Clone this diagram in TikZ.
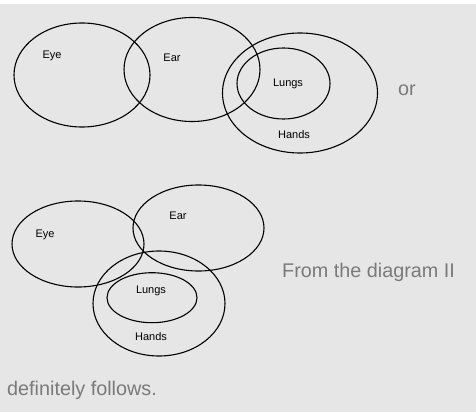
\documentclass[tikz,border=0pt]{standalone}
\usepackage{fontspec}
\setmainfont{Liberation Sans}
\usetikzlibrary{shapes.geometric}
\definecolor{bg}{HTML}{E6E6E6}
\definecolor{gtext}{HTML}{7A7A7A}
\tikzset{
  venn/.style={draw=black, line width=1.1pt, ellipse, inner sep=0pt},
  lbl/.style={font=\fontsize{11}{13}\selectfont, text=black},
  remark/.style={font=\fontsize{19.8}{23}\selectfont, text=gtext, anchor=west, inner sep=0pt}
}
\begin{document}
\begin{tikzpicture}[x=1pt,y=-1pt]
\fill[bg] (0,0) rectangle (476,412);
\fill[white] (0,0) rectangle (476,4);
\useasboundingbox (0,0) rectangle (476,412);
% top diagram
\node[venn, minimum width=136pt, minimum height=104pt] (eye1) at (82,75) {};
\node[venn, minimum width=136pt, minimum height=104pt] (ear1) at (192,69.5) {};
\node[venn, minimum width=155pt, minimum height=120pt] (hands1) at (300,93) {};
\node[venn, minimum width=93pt, minimum height=71pt] (lungs1) at (283.5,83.5) {};
\node[lbl] (teye1) at (52,56) {Eye};
\node[lbl] (tear1) at (172,58) {Ear};
\node[lbl] (tlungs1) at (288,84) {Lungs};
\node[lbl] (thands1) at (294,135) {Hands};
\node[remark] (or) at (398,90) {or};
% bottom diagram
\node[venn, minimum width=132pt, minimum height=86pt] (eye2) at (78,244) {};
\node[venn, minimum width=131pt, minimum height=86pt] (ear2) at (198.5,228) {};
\node[venn, minimum width=132pt, minimum height=105pt] (hands2) at (159,303.5) {};
\node[venn, minimum width=90pt, minimum height=50pt] (lungs2) at (152,297.7) {};
\node[lbl] (teye2) at (45,235) {Eye};
\node[lbl] (tear2) at (178,216) {Ear};
\node[lbl] (tlungs2) at (151,291) {Lungs};
\node[lbl] (thands2) at (151,337) {Hands};
\node[remark] (from) at (282,272.7) {From the diagram II};
\node[remark] (def) at (7,390) {definitely follows.};
\end{tikzpicture}
\end{document}
